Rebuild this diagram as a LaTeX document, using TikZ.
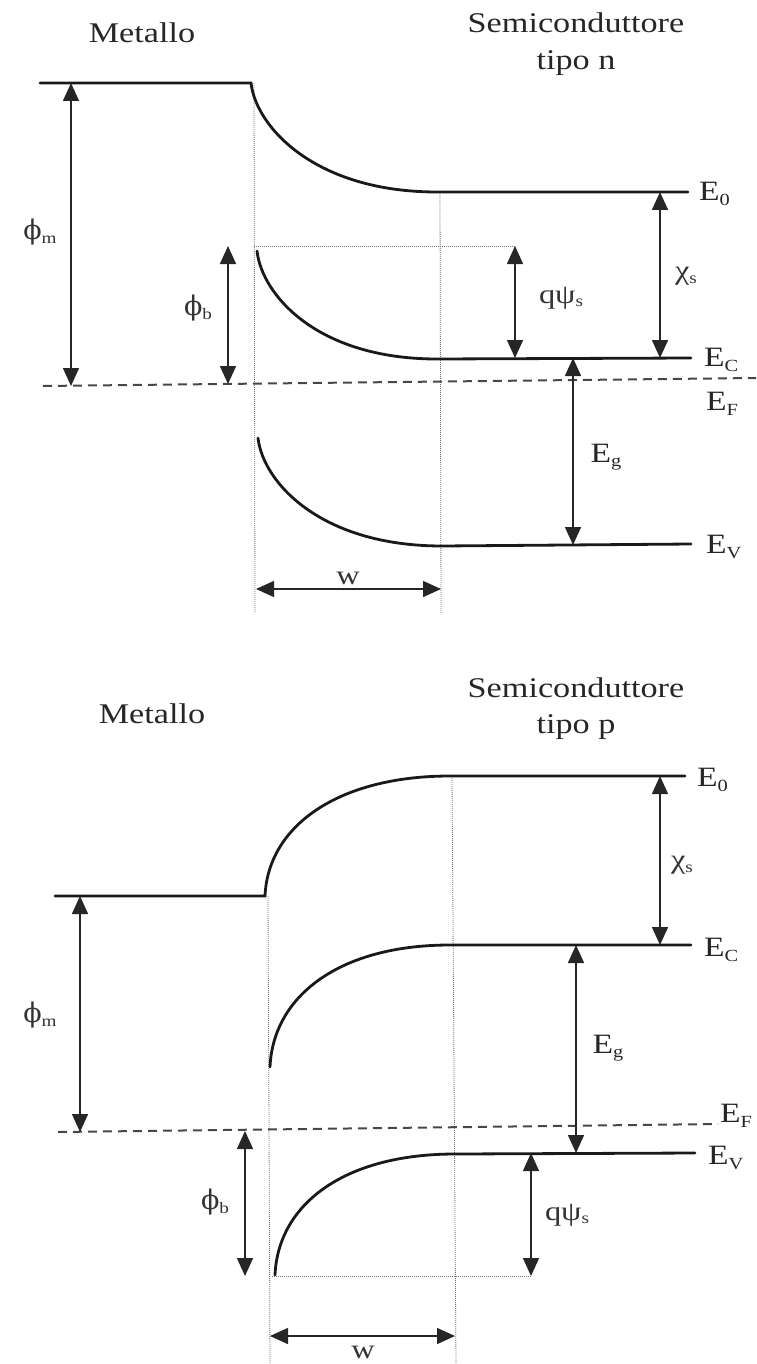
\documentclass[tikz,border=0pt]{standalone}
\usepackage{fontspec}
\setmainfont{Liberation Serif}
\newfontfamily\lblfont[FakeStretch=1.2]{Liberation Serif}
\newfontfamily\grkfont{DejaVu Serif}
\usetikzlibrary{arrows.meta}
\newcommand\lsub[1]{\raisebox{-0.35ex}{\fontsize{17}{17}\selectfont #1}}
\newcommand\gsub[1]{\raisebox{-0.3ex}{\lblfont\fontsize{16}{16}\selectfont #1}}
\newcommand\gph{{\grkfont ϕ}}
\begin{document}
\begin{tikzpicture}[x=1pt,y=-1pt,
  band/.style={line width=2.8pt, line cap=round, black!90},
  dimarrow/.style={line width=1.5pt, black!85, {Triangle[length=18pt,width=16pt]}-{Triangle[length=18pt,width=16pt]}},
  guide/.style={line width=0.8pt, black!55, dash pattern=on 1pt off 1pt},
  fermi/.style={line width=2pt, black!72, dash pattern=on 9pt off 6pt},
  lab/.style={font=\lblfont\fontsize{28}{30}\selectfont, text=black!85, inner sep=0pt},
  glab/.style={font=\lblfont\fontsize{27}{30}\selectfont, text=black!80, inner sep=0pt},
  title/.style={font=\lblfont\fontsize{28.5}{32}\selectfont, text=black!85, inner sep=0pt, anchor=base}]
\useasboundingbox (0,0) rectangle (756,1364);

% ================= TOP: n-type =================
\node[title] (tM) at (142,43) {Metallo};
\node[title] (tS1) at (576,33) {Semiconduttore};
\node[title] (tS2) at (576,70) {tipo n};

\coordinate (Tm0) at (40,83);  \coordinate (Tm1) at (251,83);
\coordinate (Te0f) at (437,192); \coordinate (Te0r) at (688,192);
\coordinate (Tc0) at (257,251); \coordinate (Tcf) at (437,359); \coordinate (Tcr) at (691,358);
\coordinate (Tv0) at (258,438); \coordinate (Tvf) at (442,546); \coordinate (Tvr) at (691,544);
\coordinate (TfL) at (43,386); \coordinate (TfR) at (756,378);

% guides
\coordinate (Tg1t) at (254,83);  \coordinate (Tg1b) at (255,613);
\coordinate (Tg2t) at (440,192); \coordinate (Tg2b) at (441,613);
\coordinate (Th0) at (254,246);  \coordinate (Th1) at (515,246);
\draw[guide] (Tg1t) -- (Tg1b);
\draw[guide] (Tg2t) -- (Tg2b);
\draw[guide] (Th0) -- (Th1);

% Fermi level
\draw[fermi] (TfL) -- (TfR);

% bands
\draw[band] (Tm0) -- (Tm1) .. controls +(5,44) and +(-122,0) .. (Te0f) -- (Te0r);
\draw[band] (Tc0) .. controls +(5,44) and +(-120,0) .. (Tcf) -- (Tcr);
\draw[band] (Tv0) .. controls +(5,44) and +(-122,0) .. (Tvf) -- (Tvr);

% dimension arrows
\coordinate (Tpm1) at (71,83);   \coordinate (Tpm2) at (71,386);
\coordinate (Tpb1) at (228,246); \coordinate (Tpb2) at (228,384);
\coordinate (Tq1) at (515,246);  \coordinate (Tq2) at (515,358);
\coordinate (Tx1) at (660,192);  \coordinate (Tx2) at (660,358);
\coordinate (Tg1) at (573,358);  \coordinate (Tg2) at (573,545);
\coordinate (Tw1) at (256,589);  \coordinate (Tw2) at (441,589);
\draw[dimarrow] (Tpm1) -- (Tpm2);
\draw[dimarrow] (Tpb1) -- (Tpb2);
\draw[dimarrow] (Tq1) -- (Tq2);
\draw[dimarrow] (Tx1) -- (Tx2);
\draw[dimarrow] (Tg1) -- (Tg2);
\draw[dimarrow] (Tw1) -- (Tw2);

% labels
\node[lab, anchor=west] (TlE0) at (699,194) {E\lsub{0}};
\node[lab, anchor=west] (TlEC) at (704,360) {E\lsub{C}};
\node[lab, anchor=west] (TlEF) at (706,404) {E\lsub{F}};
\node[lab, anchor=west] (TlEV) at (706,547) {E\lsub{V}};
\node[lab] (TlEg) at (606,457) {E\lsub{g}};
\node[glab] (Tlpm) at (40,232) {\gph\gsub{m}};
\node[glab] (Tlpb) at (198,308) {\gph\gsub{b}};
\node[glab] (Tlq) at (561,298) {qψ\gsub{s}};
\node[glab] (Tlx) at (686,276) {χ\gsub{s}};
\node[glab] (Tlw) at (348,578) {w};

% ================= BOTTOM: p-type =================
\node[title] (bM) at (152,723) {Metallo};
\node[title] (bS1) at (576,697) {Semiconduttore};
\node[title] (bS2) at (576,733) {tipo p};

\coordinate (Bm0) at (55,896);  \coordinate (Bm1) at (265,896);
\coordinate (Be0f) at (450,776); \coordinate (Be0r) at (685,776);
\coordinate (Bc0) at (270,1067); \coordinate (Bcf) at (450,945); \coordinate (Bcr) at (691,945);
\coordinate (Bv0) at (275,1275); \coordinate (Bvf) at (455,1154); \coordinate (Bvr) at (695,1153);
\coordinate (BfL) at (58,1132); \coordinate (BfR) at (718,1124);

% guides
\coordinate (Bg1t) at (268,896);  \coordinate (Bg1b) at (270,1364);
\coordinate (Bg2t) at (452,776);  \coordinate (Bg2b) at (456,1364);
\coordinate (Bh0) at (272,1276);  \coordinate (Bh1) at (531,1276);
\draw[guide] (Bg1t) -- (Bg1b);
\draw[guide] (Bg2t) -- (Bg2b);
\draw[guide] (Bh0) -- (Bh1);

\draw[fermi] (BfL) -- (BfR);

\draw[band] (Bm0) -- (Bm1) .. controls +(3,-70) and +(-112,0) .. (Be0f) -- (Be0r);
\draw[band] (Bc0) .. controls +(3,-70) and +(-112,0) .. (Bcf) -- (Bcr);
\draw[band] (Bv0) .. controls +(3,-70) and +(-112,0) .. (Bvf) -- (Bvr);

\coordinate (Bpm1) at (80,896);   \coordinate (Bpm2) at (80,1132);
\coordinate (Bpb1) at (245,1131); \coordinate (Bpb2) at (245,1276);
\coordinate (Bq1) at (531,1153);  \coordinate (Bq2) at (531,1276);
\coordinate (Bx1) at (660,776);   \coordinate (Bx2) at (660,945);
\coordinate (Bg1) at (576,945);   \coordinate (Bg2) at (576,1153);
\coordinate (Bw1) at (270,1336);  \coordinate (Bw2) at (455,1336);
\draw[dimarrow] (Bpm1) -- (Bpm2);
\draw[dimarrow] (Bpb1) -- (Bpb2);
\draw[dimarrow] (Bq1) -- (Bq2);
\draw[dimarrow] (Bx1) -- (Bx2);
\draw[dimarrow] (Bg1) -- (Bg2);
\draw[dimarrow] (Bw1) -- (Bw2);

\node[lab, anchor=west] (BlE0) at (697,780) {E\lsub{0}};
\node[lab, anchor=west] (BlEC) at (704,950) {E\lsub{C}};
\node[lab, anchor=west] (BlEF) at (720,1116) {E\lsub{F}};
\node[lab, anchor=west] (BlEV) at (708,1158) {E\lsub{V}};
\node[lab] (BlEg) at (608,1048) {E\lsub{g}};
\node[glab] (Blpm) at (40,1015) {\gph\gsub{m}};
\node[glab] (Blpb) at (215,1202) {\gph\gsub{b}};
\node[glab] (Blq) at (567,1215) {qψ\gsub{s}};
\node[glab] (Blx) at (682,865) {χ\gsub{s}};
\node[glab] (Blw) at (363,1352) {w};
\end{tikzpicture}
\end{document}
